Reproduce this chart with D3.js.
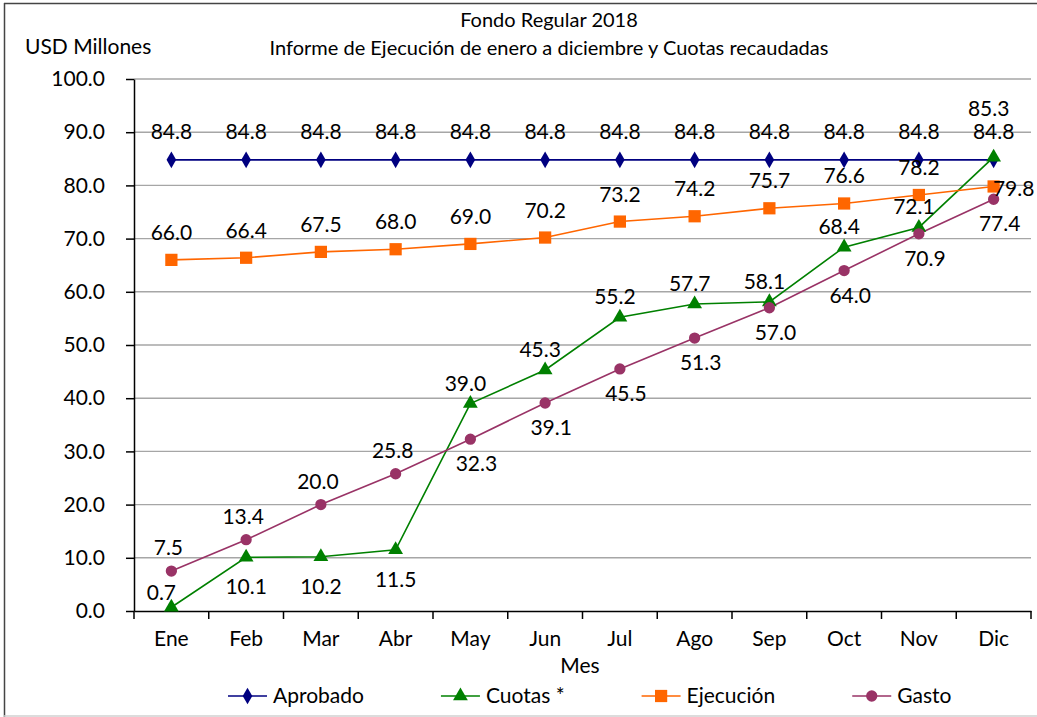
<!DOCTYPE html>
<html>
<head>
<meta charset="utf-8">
<script src="https://cdn.jsdelivr.net/npm/d3@7"></script>
<style>
  body { margin: 0; background: #fff; }
  svg { display: block; font-family: Lato, "Open Sans", sans-serif; }
</style>
</head>
<body>
<svg id="chart" width="1037" height="717"></svg>
<script>
// data
const months = ['Ene', 'Feb', 'Mar', 'Abr', 'May', 'Jun', 'Jul', 'Ago', 'Sep', 'Oct', 'Nov', 'Dic']
const aprobado = [84.8, 84.8, 84.8, 84.8, 84.8, 84.8, 84.8, 84.8, 84.8, 84.8, 84.8, 84.8]
const cuotas = [0.7, 10.1, 10.2, 11.5, 39.0, 45.3, 55.2, 57.7, 58.1, 68.4, 72.1, 85.3]
const ejecucion = [66.0, 66.4, 67.5, 68.0, 69.0, 70.2, 73.2, 74.2, 75.7, 76.6, 78.2, 79.8]
const gasto = [7.5, 13.4, 20.0, 25.8, 32.3, 39.1, 45.5, 51.3, 57.0, 64.0, 70.9, 77.4]
const yTicks = [0, 10, 20, 30, 40, 50, 60, 70, 80, 90, 100]

const titleLines = ['Fondo Regular 2018', 'Informe de Ejecución de enero a diciembre y Cuotas recaudadas']

const svg = d3.select('#chart')
const W = 1037, H = 717
const plot = { left: 134, right: 1031, top: 79, bottom: 611 }

// frame
svg.append('line').attr('x1', 4).attr('x2', W).attr('y1', 3.5).attr('y2', 3.5).attr('stroke', '#444').attr('stroke-width', 1.5)
svg.append('line').attr('x1', 4.5).attr('x2', 4.5).attr('y1', 3).attr('y2', H).attr('stroke', '#444').attr('stroke-width', 1.5)
svg.append('line').attr('x1', 4).attr('x2', W).attr('y1', 716).attr('y2', 716).attr('stroke', '#d0d0d0').attr('stroke-width', 1.5)

const x = d3.scaleBand().domain(months).range([plot.left, plot.right]).padding(0)
const cx = (m) => x(m) + x.bandwidth() / 2
const y = d3.scaleLinear().domain([0, 100]).range([plot.bottom, plot.top])

// gridlines
svg.append('g')
	.selectAll('line')
	.data(yTicks.filter((d) => d > 0))
	.join('line')
	.attr('x1', plot.left)
	.attr('x2', plot.right)
	.attr('y1', (d) => y(d))
	.attr('y2', (d) => y(d))
	.attr('stroke', '#a6a6a6')
	.attr('stroke-width', 1.4)

// y axis
const yAxis = svg.append('g')
	.attr('transform', `translate(${plot.left},0)`)
	.call(d3.axisLeft(y).tickValues(yTicks).tickFormat(d3.format('.1f')).tickSize(8).tickSizeOuter(0).tickPadding(21))
yAxis.select('.domain').attr('stroke', '#000').attr('stroke-width', 1.5)
yAxis.selectAll('.tick line').attr('stroke', '#000').attr('stroke-width', 1.5)
yAxis.selectAll('text').attr('font-size', 21).attr('fill', '#000').attr('font-family', 'Lato')

// x axis
const xAxis = svg.append('g')
	.attr('transform', `translate(0,${plot.bottom})`)
	.call(d3.axisBottom(x).tickSize(0).tickSizeOuter(0).tickPadding(20))
xAxis.select('.domain').attr('stroke', '#000').attr('stroke-width', 1.5)
xAxis.selectAll('text').attr('font-size', 21).attr('fill', '#000').attr('font-family', 'Lato')

// tick marks between categories
svg.append('g')
	.selectAll('line')
	.data(months.map((m) => x(m)).concat([plot.right]))
	.join('line')
	.attr('x1', (d) => d)
	.attr('x2', (d) => d)
	.attr('y1', plot.bottom)
	.attr('y2', plot.bottom + 8)
	.attr('stroke', '#000')
	.attr('stroke-width', 1.5)

// titles
svg.append('g')
	.selectAll('text')
	.data(titleLines)
	.join('text')
	.attr('x', 549)
	.attr('y', (d, i) => 27 + i * 28)
	.attr('text-anchor', 'middle')
	.attr('font-size', 20)
	.text((d) => d)

svg.append('text').attr('x', 25).attr('y', 54).attr('font-size', 21).text('USD Millones')
svg.append('text').attr('x', 580).attr('y', 673).attr('text-anchor', 'middle').attr('font-size', 21).text('Mes')

// series
const series = [
	{ name: 'Aprobado', values: aprobado, color: '#000080', symbol: d3.symbolDiamond, size: 80,
		place: () => ({ pos: 'above', dy: 21, dx: 0 }) },
	{ name: 'Cuotas *', values: cuotas, color: '#008000', symbol: d3.symbolTriangle, size: 95,
		place: (i) => (i === 0 ? { pos: 'above', dy: 7, dx: -10 } : i < 4 ? { pos: 'below', dy: 37, dx: 0 } : { pos: 'above', dy: 13, dx: -5 }) },
	{ name: 'Ejecución', values: ejecucion, color: '#ff6600', symbol: d3.symbolSquare, size: 150,
		place: (i, n) => (i === n - 1 ? { pos: 'right', dy: -3, dx: 20 } : { pos: 'above', dy: 20, dx: 0 }) },
	{ name: 'Gasto', values: gasto, color: '#993366', symbol: d3.symbolCircle, size: 100,
		place: (i) => (i < 4 ? { pos: 'above', dy: 16, dx: -3 } : { pos: 'below', dy: 32, dx: 6 }) }
]

const line = d3.line().x((d, i) => cx(months[i])).y((d) => y(d))

const lines = svg.append('g')
series.forEach((s) => {
	lines.append('path')
		.attr('d', line(s.values))
		.attr('fill', 'none')
		.attr('stroke', s.color)
		.attr('stroke-width', 1.6)
})
series.forEach((s) => {
	lines.append('g')
		.selectAll('path')
		.data(s.values)
		.join('path')
		.attr('transform', (d, i) => `translate(${cx(months[i])},${y(d)})`)
		.attr('d', d3.symbol().type(s.symbol).size(s.size))
		.attr('fill', s.color)
})

// data labels, nudged apart when they collide
const labelLayer = svg.append('g').attr('font-size', 21)
const placed = []
const order = [0, 2, 3, 1]
order.forEach((k) => {
	const s = series[k]
	s.values.forEach((v, i) => {
		const p = s.place(i, s.values.length)
		const px = cx(months[i]) + p.dx
		const py = y(v)
		let by = p.pos === 'above' ? py - p.dy : p.pos === 'below' ? py + p.dy : py - p.dy + 7
		const t = labelLayer.append('text').attr('text-anchor', 'middle').text(v.toFixed(1))
		const w = t.node().getComputedTextLength()
		const lx = Math.min(px, W - 1 - w / 2)
		const h = 18
		let tries = 0
		const hit = () => placed.some((b) => lx - w / 2 < b.x2 && lx + w / 2 > b.x1 && by - h < b.y2 + 2 && by + 2 > b.y1)
		while (hit() && tries < 12) {
			by += p.pos === 'below' ? 4 : -4
			tries++
		}
		t.attr('x', lx).attr('y', by)
		placed.push({ x1: lx - w / 2, x2: lx + w / 2, y1: by - h, y2: by })
	})
})

// legend
const legend = svg.append('g').attr('transform', 'translate(228,696)')
let lxPos = 0
series.forEach((s) => {
	const g = legend.append('g').attr('transform', `translate(${lxPos},0)`)
	g.append('line').attr('x1', 0).attr('x2', 39).attr('stroke', s.color).attr('stroke-width', 1.6)
	g.append('path').attr('transform', 'translate(19.5,0)').attr('d', d3.symbol().type(s.symbol).size(s.size)).attr('fill', s.color)
	const t = g.append('text').attr('x', 45).attr('y', 7).attr('font-size', 21).text(s.name)
	lxPos += 45 + t.node().getComputedTextLength() + 77
})
</script>
</body>
</html>
